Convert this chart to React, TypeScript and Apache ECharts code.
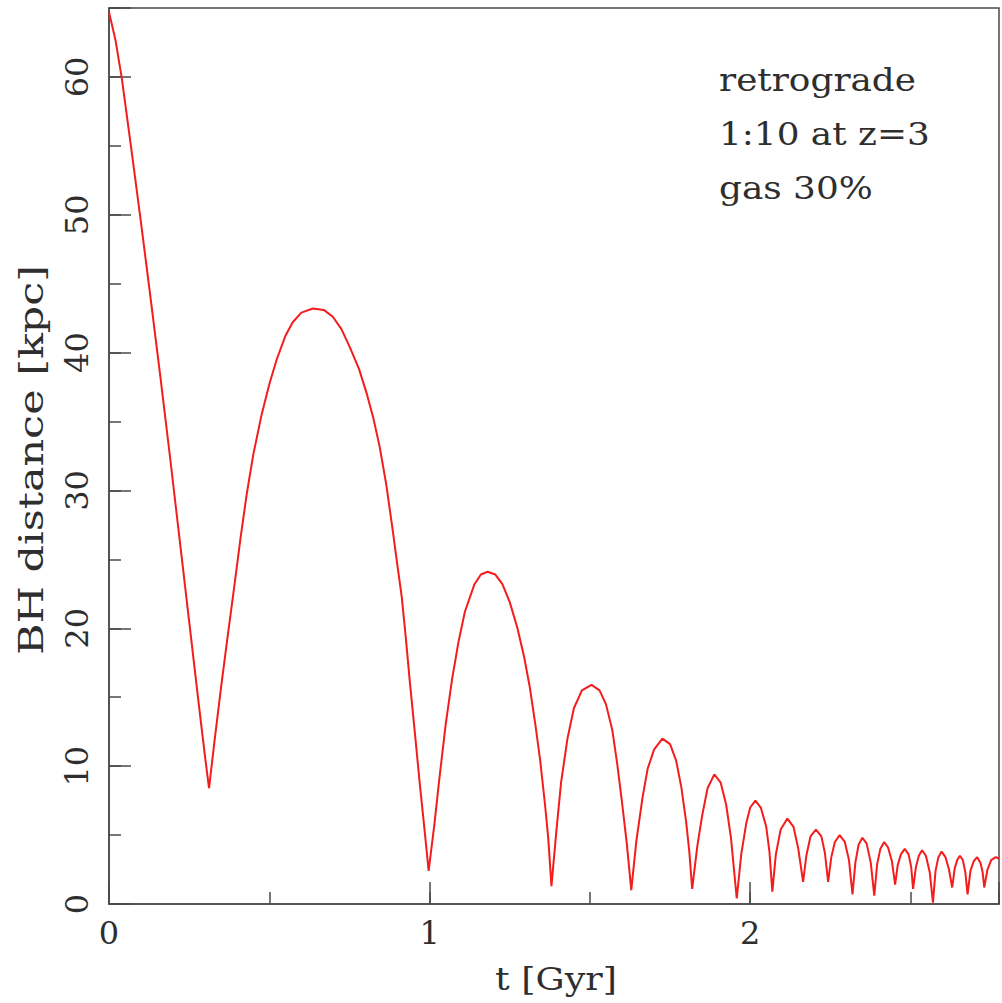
import React, { useEffect, useRef } from "react";
import * as echarts from "echarts";

// time in Gyr
const tValues: number[] = [
  0, 0.02, 0.04, 0.07, 0.1, 0.13, 0.16, 0.19, 0.22, 0.25, 0.28, 0.3, 0.312,
  0.33, 0.35, 0.37, 0.39, 0.41, 0.43, 0.45, 0.476, 0.5, 0.523, 0.55, 0.573, 0.6, 0.636,
  0.67, 0.698, 0.725, 0.751, 0.78, 0.803, 0.825, 0.844, 0.865, 0.885, 0.9, 0.913, 0.925, 0.938, 0.955, 0.969, 0.985, 0.997,
  1.015, 1.03, 1.05, 1.07, 1.09, 1.11, 1.14, 1.16, 1.181, 1.205, 1.227, 1.25, 1.274, 1.295, 1.312, 1.33, 1.345, 1.36, 1.37, 1.38,
  1.395, 1.41, 1.43, 1.45, 1.475, 1.505, 1.53, 1.55, 1.57, 1.585, 1.6, 1.615, 1.629,
  1.645, 1.664, 1.68, 1.7, 1.726, 1.75, 1.769, 1.785, 1.8, 1.81, 1.819,
  1.835, 1.85, 1.867, 1.888, 1.908, 1.925, 1.94, 1.958,
  1.972, 1.988, 2.0, 2.016, 2.033, 2.05, 2.06, 2.069,
  2.08, 2.095, 2.116, 2.135, 2.15, 2.165,
  2.175, 2.188, 2.205, 2.222, 2.233, 2.243,
  2.253, 2.264, 2.279, 2.295, 2.308, 2.319,
  2.328, 2.338, 2.35, 2.363, 2.376, 2.387,
  2.396, 2.406, 2.418, 2.43, 2.442, 2.452,
  2.46, 2.47, 2.482, 2.494, 2.502, 2.508,
  2.517, 2.526, 2.536, 2.548, 2.56, 2.57,
  2.578, 2.587, 2.597, 2.609, 2.62, 2.63,
  2.638, 2.646, 2.654, 2.663, 2.671, 2.678,
  2.687, 2.697, 2.708, 2.718, 2.725, 2.73,
  2.74, 2.752, 2.766, 2.776,
];

// BH distance in kpc
const distValues: number[] = [
  64.7, 62.7, 59.9, 54.7, 49.4, 43.9, 38.3, 32.5, 26.5, 20.5, 14.5, 10.6, 8.4,
  12.0, 15.8, 19.4, 22.9, 26.5, 29.8, 32.6, 35.5, 37.7, 39.5, 41.2, 42.2, 42.9, 43.2,
  43.1, 42.6, 41.7, 40.4, 38.8, 37.1, 35.2, 33.2, 30.4, 27.1, 24.5, 22.3, 19.5, 16.2, 12.2, 8.8, 5.2, 2.4,
  5.8, 9.0, 13.0, 16.3, 19.0, 21.2, 23.2, 23.9, 24.1, 23.9, 23.2, 21.9, 20.0, 17.9, 15.8, 13.0, 10.4, 7.2, 4.8, 1.3,
  5.2, 8.8, 12.0, 14.2, 15.5, 15.9, 15.5, 14.5, 12.6, 10.2, 7.4, 4.4, 1.0,
  4.6, 7.7, 9.8, 11.2, 12.0, 11.6, 10.4, 8.5, 6.0, 3.8, 1.1,
  4.2, 6.4, 8.4, 9.4, 8.8, 7.2, 4.8, 0.4,
  3.6, 5.9, 7.0, 7.5, 7.0, 5.6, 3.8, 0.9,
  3.6, 5.4, 6.2, 5.6, 4.0, 1.6,
  3.5, 4.9, 5.4, 4.9, 3.7, 1.6,
  3.4, 4.5, 5.0, 4.5, 3.2, 0.7,
  3.0, 4.3, 4.8, 4.4, 3.0, 0.6,
  2.9, 4.0, 4.5, 4.1, 3.1, 1.4,
  2.8, 3.6, 4.0, 3.6, 2.7, 1.1,
  2.7, 3.5, 3.9, 3.5, 2.3, 0.1,
  2.4, 3.4, 3.8, 3.4, 2.5, 1.2,
  2.6, 3.2, 3.5, 3.2, 2.3, 0.7,
  2.4, 3.1, 3.4, 3.0, 2.3, 1.2,
  2.5, 3.2, 3.4, 3.3,
];

const annotationLines: string[] = ["retrograde", "1:10 at z=3", "gas 30%"];
const xTitle = "t [Gyr]";
const yTitle = "BH distance [kpc]";

const FONT = "DejaVu Serif";
const AXIS_COLOR = "#4a4a4a";
const TEXT_COLOR = "#2e2e2e";

export default function App() {
  const ref = useRef<HTMLDivElement>(null);

  useEffect(() => {
    if (!ref.current) return;
    const chart = echarts.init(ref.current, null, { renderer: "svg" });
    const data = tValues.map((t, i) => [t, distValues[i]]);
    const xMin = 0;
    const xMax = 2.776;
    const yMin = 0;
    const yMax = 65;

    const annotationGraphics = annotationLines.map((line, i) => ({
      type: "text",
      x: 719,
      y: 64 + i * 54,
      scaleX: 1.12,
      style: {
        text: line,
        fontFamily: FONT,
        fontSize: 32,
        fill: TEXT_COLOR,
        textAlign: "left",
        textVerticalAlign: "top",
      },
    }));

    chart.setOption({
      animation: false,
      backgroundColor: "#ffffff",
      grid: {
        left: 109,
        right: 2,
        top: 8,
        bottom: 99,
        show: true,
        borderColor: AXIS_COLOR,
        borderWidth: 1.5,
        backgroundColor: "transparent",
      },
      xAxis: [
        {
          type: "value",
          position: "bottom",
          min: xMin,
          max: xMax,
          interval: 1,
          axisLine: { show: true, lineStyle: { color: AXIS_COLOR, width: 1.5 } },
          axisTick: { show: true, inside: true, length: 22, lineStyle: { color: AXIS_COLOR, width: 1.5 } },
          axisLabel: {
            show: true,
            margin: 13,
            fontFamily: FONT,
            fontSize: 32,
            color: TEXT_COLOR,
            formatter: (v: number) => (Math.abs(v - Math.round(v)) < 1e-9 ? String(Math.round(v)) : ""),
          },
          splitLine: { show: false },
        },
        {
          type: "value",
          position: "bottom",
          min: xMin,
          max: xMax,
          interval: 0.5,
          axisLine: { show: false },
          axisTick: { show: true, inside: true, length: 12, lineStyle: { color: AXIS_COLOR, width: 1.5 } },
          axisLabel: { show: false },
          splitLine: { show: false },
        },
      ],
      yAxis: [
        {
          type: "value",
          position: "left",
          min: yMin,
          max: yMax,
          interval: 10,
          axisLine: { show: true, lineStyle: { color: AXIS_COLOR, width: 1.5 } },
          axisTick: { show: true, inside: true, length: 22, lineStyle: { color: AXIS_COLOR, width: 1.5 } },
          axisLabel: {
            show: true,
            rotate: 90,
            margin: 16,
            fontFamily: FONT,
            fontSize: 32,
            color: TEXT_COLOR,
            formatter: (v: number) => (Math.abs(v % 10) < 1e-9 ? String(v) : ""),
          },
          splitLine: { show: false },
        },
        {
          type: "value",
          position: "left",
          min: yMin,
          max: yMax,
          interval: 5,
          axisLine: { show: false },
          axisTick: { show: true, inside: true, length: 12, lineStyle: { color: AXIS_COLOR, width: 1.5 } },
          axisLabel: { show: false },
          splitLine: { show: false },
        },
      ],
      graphic: [
        ...annotationGraphics,
        {
          type: "text",
          x: 556,
          y: 979,
          scaleX: 1.14,
          style: {
            text: xTitle,
            fontFamily: FONT,
            fontSize: 32,
            fill: TEXT_COLOR,
            textAlign: "center",
            textVerticalAlign: "middle",
          },
        },
        {
          type: "text",
          x: 31,
          y: 460,
          rotation: Math.PI / 2,
          scaleX: 1.3,
          style: {
            text: yTitle,
            fontFamily: FONT,
            fontSize: 33,
            fill: TEXT_COLOR,
            textAlign: "center",
            textVerticalAlign: "middle",
          },
        },
      ],
      series: [
        {
          type: "line",
          xAxisIndex: 0,
          yAxisIndex: 0,
          data,
          showSymbol: false,
          symbol: "none",
          smooth: false,
          clip: true,
          lineStyle: { color: "#f41c1c", width: 2 },
        },
      ],
    });

    return () => chart.dispose();
  }, []);

  return (
    <div
      ref={ref}
      style={{ position: "absolute", left: 0, top: 0, width: 1002, height: 1003 }}
    />
  );
}
